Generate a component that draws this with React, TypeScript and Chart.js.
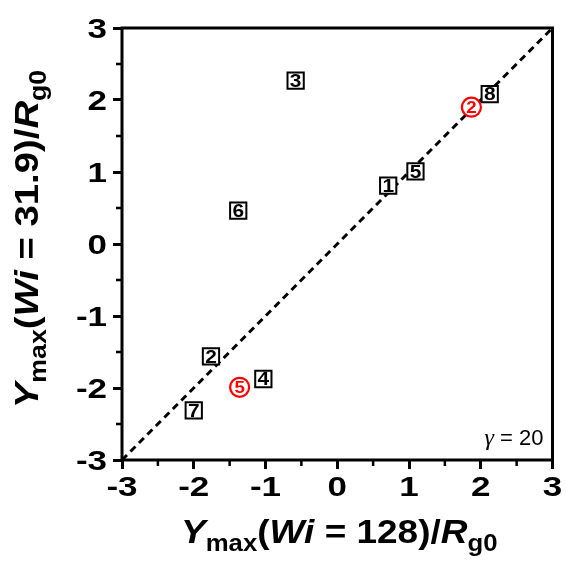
import { useEffect, useRef } from 'react';
import { Chart, registerables } from 'chart.js';

Chart.register(...registerables);

// Boxed-number samples
const boxLabels = ['1', '2', '3', '4', '5', '6', '7', '8'];
const boxX = [0.71, -1.76, -0.58, -1.03, 1.09, -1.38, -2.0, 2.125];
const boxY = [0.81, -1.56, 2.27, -1.875, 1.01, 0.465, -2.31, 2.08];

// Circled (red) samples
const circleLabels = ['2', '5'];
const circleX = [1.87, -1.36];
const circleY = [1.9, -1.99];

// y = x reference line
const diagonalX = [-3, 3];
const diagonalY = [-3, 3];

const axisMin = -3;
const axisMax = 3;
const minorTicks = [-2.5, -1.5, -0.5, 0.5, 1.5, 2.5];

const gammaValue = '20';

type Seg = { t: string; italic?: boolean; sub?: boolean };
const xTitle: Seg[] = [
  { t: 'Y', italic: true },
  { t: 'max', sub: true },
  { t: '(' },
  { t: 'Wi', italic: true },
  { t: ' = 128)/' },
  { t: 'R', italic: true },
  { t: 'g0', sub: true },
];
const yTitle: Seg[] = [
  { t: 'Y', italic: true },
  { t: 'max', sub: true },
  { t: '(' },
  { t: 'Wi', italic: true },
  { t: ' = 31.9)/' },
  { t: 'R', italic: true },
  { t: 'g0', sub: true },
];

const SANS = '"Liberation Sans", Arial, sans-serif';
const TICK_FONT = `bold 28px ${SANS}`;
const TICK_STRETCH = 1.25;

function drawRich(ctx: CanvasRenderingContext2D, segs: Seg[], size: number, subSize: number, subShift: number, stretch: number) {
  const fontOf = (s: Seg) => `${s.italic ? 'italic ' : ''}bold ${s.sub ? subSize : size}px ${SANS}`;
  const widths = segs.map((s) => {
    ctx.font = fontOf(s);
    return ctx.measureText(s.t).width;
  });
  const total = widths.reduce((a, b) => a + b, 0);
  ctx.scale(stretch, 1);
  let x = -total / 2;
  ctx.textAlign = 'left';
  ctx.textBaseline = 'alphabetic';
  segs.forEach((s, i) => {
    ctx.font = fontOf(s);
    ctx.fillText(s.t, x, s.sub ? subShift : 0);
    x += widths[i];
  });
}

function drawStretched(ctx: CanvasRenderingContext2D, text: string, x: number, y: number, stretch: number, align: CanvasTextAlign) {
  ctx.save();
  ctx.translate(x, y);
  ctx.scale(stretch, 1);
  ctx.textAlign = align;
  ctx.fillText(text, 0, 0);
  ctx.restore();
}

const decorations = {
  id: 'decorations',
  afterDatasetsDraw(chart: any) {
    const ctx: CanvasRenderingContext2D = chart.ctx;
    ctx.save();
    chart.data.datasets.forEach((ds: any, i: number) => {
      if (!ds.pointLabels) return;
      const meta = chart.getDatasetMeta(i);
      ctx.fillStyle = ds.labelColor;
      ctx.font = ds.labelFont;
      ctx.textBaseline = 'middle';
      meta.data.forEach((pt: any, j: number) => {
        drawStretched(ctx, ds.pointLabels[j], pt.x, pt.y + 1, 1.1, 'center');
      });
    });
    ctx.restore();
  },
  afterDraw(chart: any) {
    const ctx: CanvasRenderingContext2D = chart.ctx;
    const { left, right, top, bottom } = chart.chartArea;
    const xs = chart.scales.x;
    const ys = chart.scales.y;
    ctx.save();
    ctx.strokeStyle = '#000';
    ctx.lineWidth = 3;
    ctx.strokeRect(left, top, right - left, bottom - top);

    // minor ticks
    ctx.lineWidth = 2.5;
    ctx.beginPath();
    minorTicks.forEach((v) => {
      const px = xs.getPixelForValue(v);
      ctx.moveTo(px, bottom);
      ctx.lineTo(px, bottom + 6);
      const py = ys.getPixelForValue(v);
      ctx.moveTo(left, py);
      ctx.lineTo(left - 6, py);
    });
    ctx.stroke();

    // tick labels
    ctx.fillStyle = '#000';
    ctx.font = TICK_FONT;
    ctx.textBaseline = 'alphabetic';
    xs.ticks.forEach((t: any) => {
      drawStretched(ctx, String(t.value), xs.getPixelForValue(t.value), 496, TICK_STRETCH, 'center');
    });
    ys.ticks.forEach((t: any) => {
      drawStretched(ctx, String(t.value), 107, ys.getPixelForValue(t.value) + 10, TICK_STRETCH, 'right');
    });

    // axis titles
    ctx.save();
    ctx.translate((left + right) / 2 + 2, 543);
    drawRich(ctx, xTitle, 33, 23, 8, 1.12);
    ctx.restore();

    ctx.save();
    ctx.translate(38, 239);
    ctx.rotate(-Math.PI / 2);
    drawRich(ctx, yTitle, 33, 23, 8, 1.16);
    ctx.restore();

    // gamma annotation
    ctx.textBaseline = 'alphabetic';
    ctx.textAlign = 'right';
    ctx.font = `22px ${SANS}`;
    const rest = ` = ${gammaValue}`;
    const restW = ctx.measureText(rest).width;
    ctx.fillText(rest, right - 9, bottom - 15);
    ctx.font = `italic 24px "Liberation Serif", "Times New Roman", serif`;
    ctx.fillText('\u03b3', right - 9 - restW, bottom - 15);
    ctx.restore();
  },
};

export default function App() {
  const ref = useRef<HTMLCanvasElement>(null);
  useEffect(() => {
    if (!ref.current) return;
    const chart = new Chart(ref.current, {
      type: 'scatter',
      data: {
        datasets: [
          {
            data: circleX.map((x, i) => ({ x, y: circleY[i] })),
            pointStyle: 'circle',
            pointRadius: 9.5,
            pointHoverRadius: 9.5,
            pointBorderWidth: 2.2,
            pointBorderColor: '#ff0000',
            pointBackgroundColor: '#ffffff',
            pointLabels: circleLabels,
            labelColor: '#ff0000',
            labelFont: `bold 17px ${SANS}`,
          } as any,
          {
            data: boxX.map((x, i) => ({ x, y: boxY[i] })),
            pointStyle: 'rect',
            pointRadius: 11.5,
            pointHoverRadius: 11.5,
            pointBorderWidth: 2,
            pointBorderColor: '#000000',
            pointBackgroundColor: '#ffffff',
            pointLabels: boxLabels,
            labelColor: '#000000',
            labelFont: `bold 19px ${SANS}`,
          } as any,
          {
            type: 'line',
            data: diagonalX.map((x, i) => ({ x, y: diagonalY[i] })),
            borderColor: '#000000',
            borderWidth: 3,
            borderDash: [7, 5],
            pointRadius: 0,
            fill: false,
          } as any,
        ],
      },
      options: {
        responsive: false,
        animation: false,
        events: [],
        layout: { padding: { top: 28, right: 12, left: 0, bottom: 0 } },
        plugins: { legend: { display: false }, tooltip: { enabled: false } },
        scales: {
          x: {
            type: 'linear',
            min: axisMin,
            max: axisMax,
            afterFit: (s: any) => {
              s.height = 101;
            },
            border: { display: false },
            grid: {
              drawOnChartArea: false,
              drawTicks: true,
              tickLength: 9,
              tickWidth: 3,
              tickColor: '#000',
            },
            ticks: { stepSize: 1, display: false },
          },
          y: {
            type: 'linear',
            min: axisMin,
            max: axisMax,
            afterFit: (s: any) => {
              s.width = 122;
            },
            border: { display: false },
            grid: {
              drawOnChartArea: false,
              drawTicks: true,
              tickLength: 9,
              tickWidth: 3,
              tickColor: '#000',
            },
            ticks: { stepSize: 1, display: false },
          },
        },
      },
      plugins: [decorations],
    });
    return () => chart.destroy();
  }, []);
  return (
    <div style={{ position: 'absolute', left: 0, top: 0, width: 566, height: 561, background: '#fff' }}>
      <canvas ref={ref} width={566} height={561} style={{ display: 'block' }} />
    </div>
  );
}
